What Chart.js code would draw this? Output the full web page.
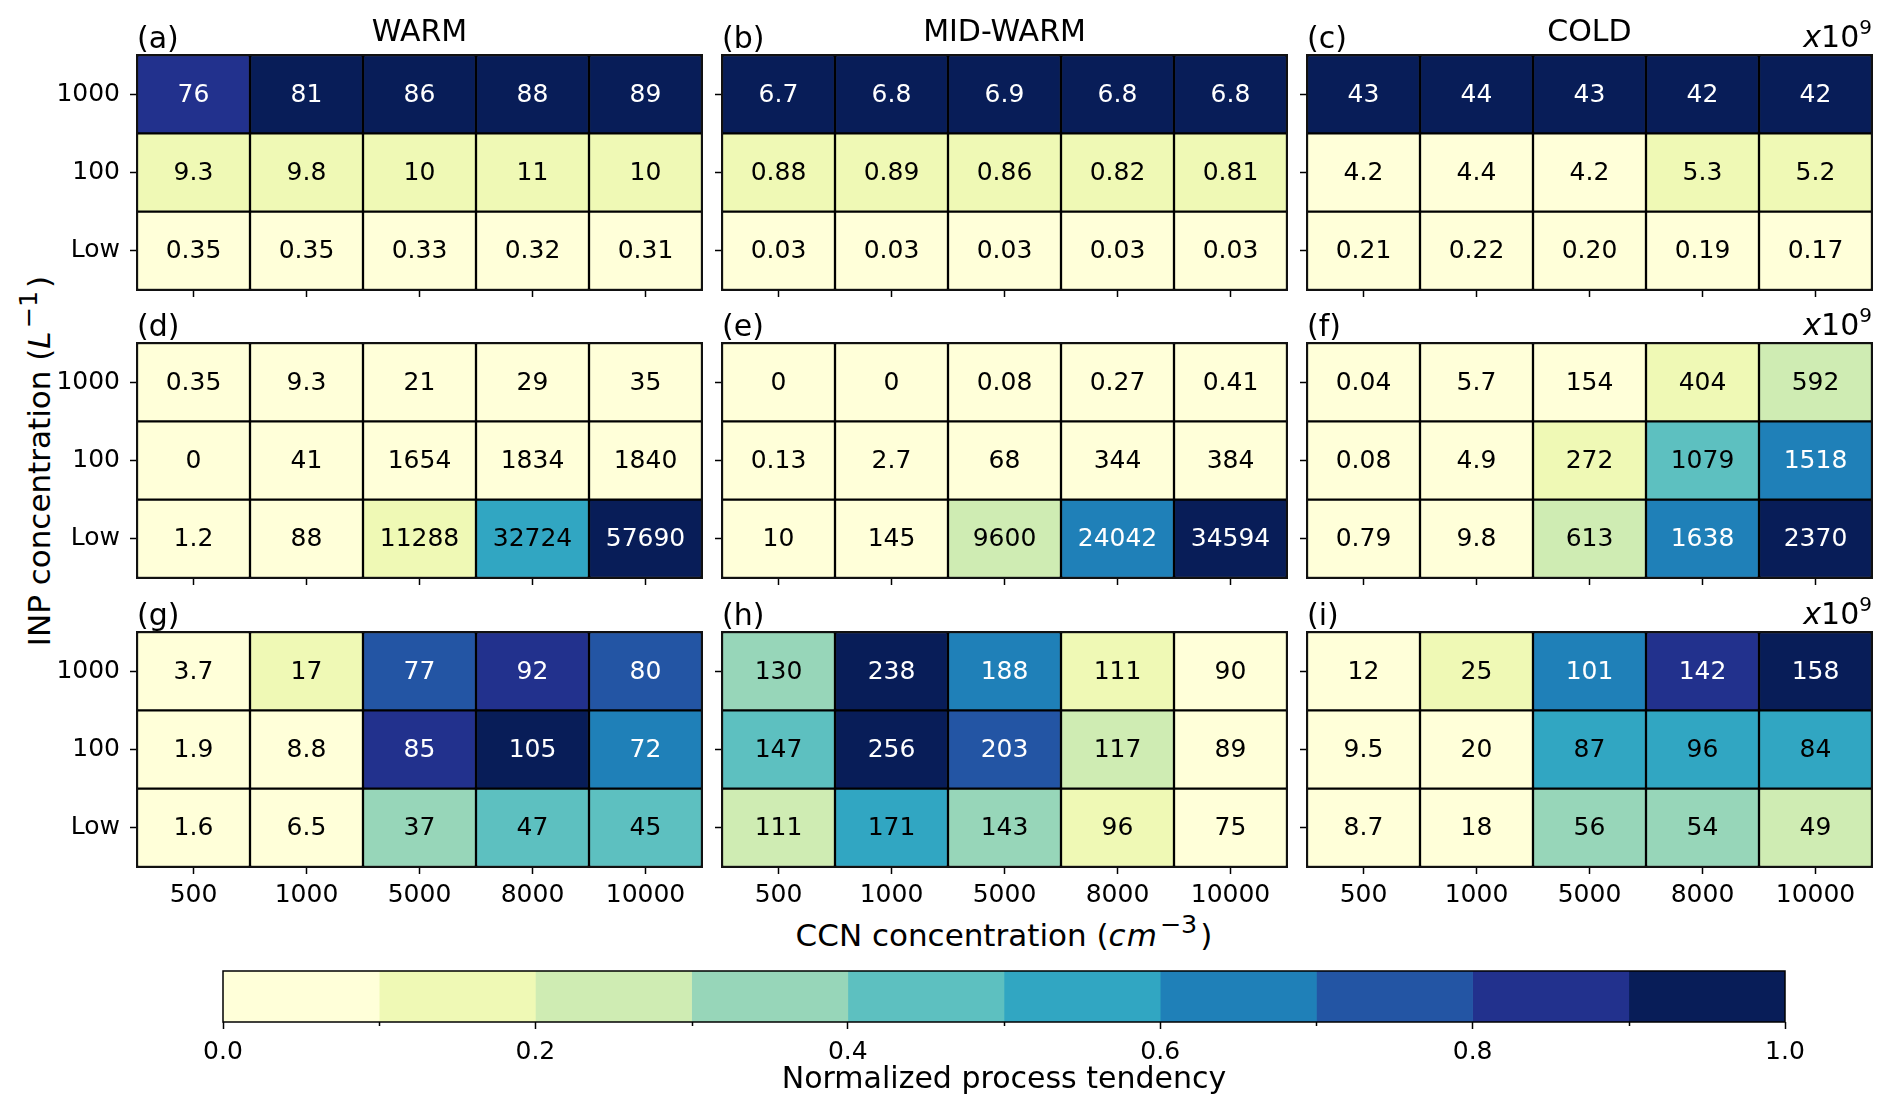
<!DOCTYPE html>
<html>
<head>
<meta charset="utf-8">
<script src="https://cdn.jsdelivr.net/npm/chart.js@4.4.1/dist/chart.umd.min.js"></script>
<style>
  html, body { margin: 0; padding: 0; background: #fff; }
  #fig { position: relative; width: 1892px; height: 1114px; overflow: hidden; font-family: "DejaVu Sans"; color: #000; }
  #fig canvas { position: absolute; }
  .axlabel { position: absolute; font-size: 31px; white-space: nowrap; transform: translate(-50%, -50%); }
  .axlabel i { letter-spacing: 1px; }
  .axlabel sup { font-size: 0.82em; vertical-align: 0.5em; line-height: 0; margin: 0 3px 0 2px; }
  #ylab { transform: translate(-50%, -50%) rotate(-90deg); }
</style>
</head>
<body>
<div id="fig">
  <div id="xlab" class="axlabel" style="left:1004px; top:935px;">CCN concentration (<i>cm</i><sup>&minus;3</sup>)</div>
  <div id="ylab" class="axlabel" style="left:39px; top:461px;">INP concentration (<i>L</i><sup>&minus;1</sup>)</div>
</div>
<script>
// categories
const ccnLabels = ['500', '1000', '5000', '8000', '10000'];
const inpLabels = ['Low', '100', '1000'];          // bottom -> top
const regimeTitles = ['WARM', 'MID-WARM', 'COLD'];
const panelLetters = ['(a)', '(b)', '(c)', '(d)', '(e)', '(f)', '(g)', '(h)', '(i)'];

// values, rows from top (1000) to bottom (Low), columns = ccnLabels
const warmA = [[76, 81, 86, 88, 89], [9.3, 9.8, 10, 11, 10], [0.35, 0.35, 0.33, 0.32, 0.31]];
const midB  = [[6.7, 6.8, 6.9, 6.8, 6.8], [0.88, 0.89, 0.86, 0.82, 0.81], [0.03, 0.03, 0.03, 0.03, 0.03]];
const coldC = [[43, 44, 43, 42, 42], [4.2, 4.4, 4.2, 5.3, 5.2], [0.21, 0.22, 0.20, 0.19, 0.17]];
const warmD = [[0.35, 9.3, 21, 29, 35], [0, 41, 1654, 1834, 1840], [1.2, 88, 11288, 32724, 57690]];
const midE  = [[0, 0, 0.08, 0.27, 0.41], [0.13, 2.7, 68, 344, 384], [10, 145, 9600, 24042, 34594]];
const coldF = [[0.04, 5.7, 154, 404, 592], [0.08, 4.9, 272, 1079, 1518], [0.79, 9.8, 613, 1638, 2370]];
const warmG = [[3.7, 17, 77, 92, 80], [1.9, 8.8, 85, 105, 72], [1.6, 6.5, 37, 47, 45]];
const midH  = [[130, 238, 188, 110.8, 90], [147.4, 256, 203, 117, 89], [111.3, 171, 143, 96, 74.8]];
const coldI = [[12, 25, 101, 142, 158], [9.5, 20, 87, 96, 84], [8.7, 18, 56, 54, 49]];

// colour bar boundaries
const cbarBounds = [0, 0.1, 0.2, 0.3, 0.4, 0.5, 0.6, 0.7, 0.8, 0.9, 1.0];

const panels = [warmA, midB, coldC, warmD, midE, coldF, warmG, midH, coldI];

// YlGnBu, 10 levels
const palette = ['#ffffd9', '#eff9b5', '#cfecb3', '#97d6b9', '#5dc0c0',
                 '#31a6c2', '#1f80b8', '#2355a4', '#22318d', '#081d58'];

const FONT = 'DejaVu Sans';
const colLeft = [137, 722, 1307];
const rowTop = [55, 343, 632];
const PW = 565, PH = 235;
const LEFT = 137, TOP = 55, RIGHT = 20, BOTTOM = 60;

function fmt(v) {
  if (v === 0) return '0';
  if (v < 1) return v.toFixed(2);
  if (v < 10) return v.toFixed(1);
  return String(Math.round(v));
}

function level(v, lo, hi) {
  return Math.min(9, Math.floor((v - lo) / (hi - lo) * 10));
}

const panelDeco = {
  id: 'panelDeco',
  afterDatasetsDraw(chart, args, opts) {
    const ctx = chart.ctx;
    const a = chart.chartArea;
    ctx.save();
    ctx.font = '25px "' + FONT + '"';
    ctx.textAlign = 'center';
    ctx.textBaseline = 'middle';
    chart.data.datasets.forEach((ds, i) => {
      chart.getDatasetMeta(i).data.forEach((el, j) => {
        const p = el.getCenterPoint();
        ctx.fillStyle = ds.textColors[j];
        ctx.fillText(ds.cellText[j], p.x, p.y + 1);
      });
    });
    ctx.lineWidth = 2;
    ctx.strokeStyle = '#111';
    ctx.strokeRect(a.left, a.top, a.right - a.left, a.bottom - a.top);

    ctx.fillStyle = '#000';
    ctx.textBaseline = 'alphabetic';
    ctx.font = '30px "' + FONT + '"';
    ctx.textAlign = 'left';
    ctx.fillText(opts.letter, a.left, a.top - 7);
    if (opts.title) {
      ctx.textAlign = 'center';
      ctx.fillText(opts.title, (a.left + a.right) / 2, a.top - 14);
    }
    if (opts.exp) {
      ctx.textAlign = 'left';
      ctx.font = '20px "' + FONT + '"';
      const w9 = ctx.measureText('9').width;
      ctx.font = '30px "' + FONT + '"';
      const w10 = ctx.measureText('10').width;
      ctx.font = 'italic 30px "' + FONT + '"';
      const wx = ctx.measureText('x').width;
      let x = a.right - w9 - w10 - wx;
      ctx.fillText('x', x, a.top - 8);
      ctx.font = '30px "' + FONT + '"';
      ctx.fillText('10', x + wx, a.top - 8);
      ctx.font = '20px "' + FONT + '"';
      ctx.fillText('9', x + wx + w10, a.top - 21);
    }
    ctx.restore();
  }
};

const fig = document.getElementById('fig');

panels.forEach((vals, k) => {
  const row = Math.floor(k / 3), col = k % 3;
  const flat = vals.flat();
  const lo = Math.min(...flat), hi = Math.max(...flat);
  const showX = row === 2, showY = col === 0;

  // datasets stacked bottom (Low) -> top (1000)
  const datasets = [2, 1, 0].map(r => {
    const lv = vals[r].map(v => level(v, lo, hi));
    return {
      data: vals[r].map(() => 1),
      backgroundColor: lv.map(l => palette[l]),
      borderColor: '#000',
      borderWidth: 1.5,
      borderSkipped: false,
      barPercentage: 1,
      categoryPercentage: 1,
      textColors: lv.map(l => l >= 6 ? '#fff' : '#000'),
      cellText: vals[r].map(fmt)
    };
  });

  const cv = document.createElement('canvas');
  cv.width = LEFT + PW + RIGHT;
  cv.height = TOP + PH + BOTTOM;
  cv.style.left = (colLeft[col] - LEFT) + 'px';
  cv.style.top = (rowTop[row] - TOP) + 'px';
  fig.appendChild(cv);

  new Chart(cv.getContext('2d'), {
    type: 'bar',
    data: { labels: ccnLabels, datasets: datasets },
    options: {
      responsive: false,
      animation: false,
      devicePixelRatio: 1,
      layout: { padding: { top: TOP, right: RIGHT, left: 0, bottom: 0 } },
      plugins: {
        legend: { display: false },
        tooltip: { enabled: false },
        panelDeco: { letter: panelLetters[k], title: row === 0 ? regimeTitles[col] : '', exp: col === 2 }
      },
      scales: {
        x: {
          stacked: true,
          offset: true,
          grid: { offset: false, drawOnChartArea: false, drawTicks: true, tickLength: 7, tickColor: '#000', tickWidth: 1.5 },
          border: { display: false },
          ticks: { display: showX, color: '#000', font: { family: FONT, size: 25 }, padding: 6, maxRotation: 0, autoSkip: false },
          afterFit(s) { s.height = BOTTOM; }
        },
        y: {
          stacked: true,
          min: 0,
          max: 3,
          afterBuildTicks(ax) { ax.ticks = [0.5, 1.5, 2.5].map(v => ({ value: v })); },
          grid: { drawOnChartArea: false, drawTicks: true, tickLength: 7, tickColor: '#000', tickWidth: 1.5 },
          border: { display: false },
          ticks: {
            color: '#000',
            font: { family: FONT, size: 25 },
            padding: 10,
            callback: (v, i) => showY ? inpLabels[i] : ''
          },
          afterFit(s) { s.width = LEFT; }
        }
      }
    },
    plugins: [panelDeco]
  });
});

// colour bar: outline plus short minor ticks between the labelled ones
const cbOutline = {
  id: 'cbOutline',
  afterDatasetsDraw(chart) {
    const a = chart.chartArea, ctx = chart.ctx;
    const xs = chart.scales.x;
    ctx.save();
    ctx.lineWidth = 1.5;
    ctx.strokeStyle = '#000';
    ctx.strokeRect(a.left, a.top, a.right - a.left, a.bottom - a.top);
    cbarBounds.forEach((b, i) => {
      if (i % 2 === 0) return;
      const px = Math.round(xs.getPixelForValue(b)) + 0.5;
      ctx.beginPath();
      ctx.moveTo(px, a.bottom);
      ctx.lineTo(px, a.bottom + 4);
      ctx.stroke();
    });
    ctx.restore();
  }
};

const CB_L = 223, CB_R = 1785, CB_T = 971, CB_B = 1022;
const cb = document.createElement('canvas');
cb.width = (CB_R - CB_L) + 80;
cb.height = 137;
cb.style.left = (CB_L - 40) + 'px';
cb.style.top = (CB_T - 10) + 'px';
fig.appendChild(cb);

new Chart(cb.getContext('2d'), {
  type: 'bar',
  data: {
    labels: [''],
    datasets: palette.map((c, i) => ({
      data: [[cbarBounds[i], cbarBounds[i + 1]]],
      backgroundColor: c,
      borderWidth: 0,
      grouped: false,
      barPercentage: 1,
      categoryPercentage: 1
    }))
  },
  options: {
    indexAxis: 'y',
    responsive: false,
    animation: false,
    devicePixelRatio: 1,
    layout: { padding: { top: 10, left: 40, right: 40, bottom: 0 } },
    plugins: { legend: { display: false }, tooltip: { enabled: false } },
    scales: {
      x: {
        min: 0,
        max: 1,
        afterBuildTicks(ax) { ax.ticks = cbarBounds.filter((v, i) => i % 2 === 0).map(v => ({ value: v })); },
        grid: { drawOnChartArea: false, drawTicks: true, tickLength: 7, tickColor: '#000', tickWidth: 1.5 },
        border: { display: false },
        ticks: {
          color: '#000',
          font: { family: FONT, size: 25 },
          padding: 8,
          maxRotation: 0,
          autoSkip: false,
          callback: v => v.toFixed(1)
        },
        title: { display: true, text: 'Normalized process tendency', color: '#000', font: { family: FONT, size: 30 }, padding: { top: 0, bottom: 0 } },
        afterFit(s) { s.height = 137 - 61; }
      },
      y: { display: false }
    }
  },
  plugins: [cbOutline]
});
</script>
</body>
</html>
